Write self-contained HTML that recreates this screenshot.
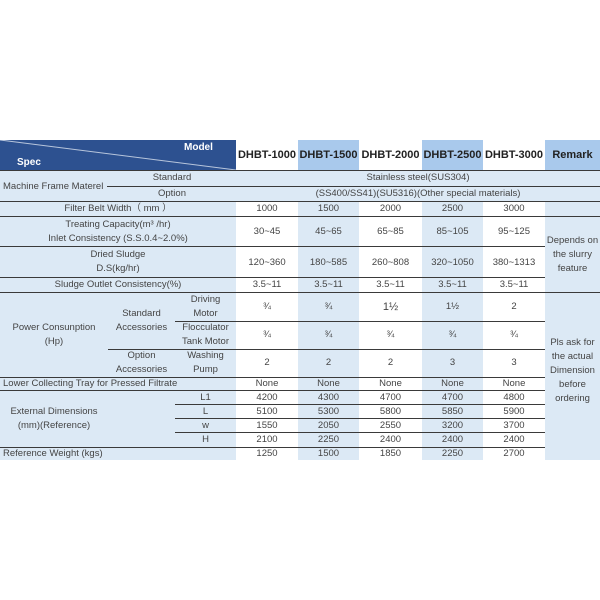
<!DOCTYPE html>
<html><head><meta charset="utf-8"><style>
body{margin:0;width:600px;height:600px;background:#fff;position:relative;overflow:hidden;font-family:"Liberation Sans",sans-serif;color:#444;font-size:9.5px}
div{position:absolute;box-sizing:border-box}
.t{text-align:center;line-height:14px;white-space:nowrap}
.h{height:1px;background:#3a3a3a}
.hd{font-weight:bold;font-size:11px;color:#222;text-align:center;line-height:30px;top:140px;height:30px}
</style></head><body>
<!-- backgrounds -->
<div style="left:0;top:170px;width:236px;height:290px;background:#dce9f5"></div>
<div style="left:298px;top:170px;width:61px;height:290px;background:#dce9f5"></div>
<div style="left:422px;top:170px;width:61px;height:290px;background:#dce9f5"></div>
<div style="left:545px;top:170px;width:55px;height:290px;background:#dce9f5"></div>
<div style="left:107px;top:170px;width:493px;height:31px;background:#dce9f5"></div>
<!-- header -->
<div style="left:0;top:140px;width:236px;height:30px;background:#2d5190"></div>
<svg style="position:absolute;left:0;top:140px" width="236" height="30"><line x1="0" y1="0" x2="236" y2="30" stroke="#b8c6dc" stroke-width="1"/></svg>
<div style="left:184px;top:142px;color:#fff;font-weight:bold;font-size:10px">Model</div>
<div style="left:17px;top:157px;color:#fff;font-weight:bold;font-size:10px">Spec</div>
<div class="hd" style="left:236px;width:62px;background:#fff">DHBT-1000</div>
<div class="hd" style="left:298px;width:61px;background:#a9c9ec">DHBT-1500</div>
<div class="hd" style="left:359px;width:63px;background:#fff">DHBT-2000</div>
<div class="hd" style="left:422px;width:61px;background:#a9c9ec">DHBT-2500</div>
<div class="hd" style="left:483px;width:62px;background:#fff">DHBT-3000</div>
<div class="hd" style="left:545px;width:55px;background:#a9c9ec">Remark</div>
<!-- lines -->
<div class="h" style="left:0;top:170px;width:600px"></div>
<div class="h" style="left:107px;top:186px;width:493px"></div>
<div class="h" style="left:0;top:201px;width:600px"></div>
<div class="h" style="left:0;top:216px;width:600px"></div>
<div class="h" style="left:0;top:246px;width:545px"></div>
<div class="h" style="left:0;top:277px;width:545px"></div>
<div class="h" style="left:0;top:292px;width:600px"></div>
<div class="h" style="left:175px;top:321px;width:370px"></div>
<div class="h" style="left:108px;top:349px;width:437px"></div>
<div class="h" style="left:0;top:377px;width:545px"></div>
<div class="h" style="left:0;top:390px;width:545px"></div>
<div class="h" style="left:175px;top:404px;width:370px"></div>
<div class="h" style="left:175px;top:418px;width:370px"></div>
<div class="h" style="left:175px;top:432px;width:370px"></div>
<div class="h" style="left:0;top:447px;width:545px"></div>
<!-- spec texts -->
<div class="t" style="left:3px;top:180px">Machine Frame Materel</div>
<div class="t" style="left:107px;width:130px;top:171px">Standard</div>
<div class="t" style="left:107px;width:130px;top:187px">Option</div>
<div class="t" style="left:290px;width:256px;top:171px">Stainless steel(SUS304)</div>
<div class="t" style="left:290px;width:256px;top:187px">(SS400/SS41)(SU5316)(Other special materials)</div>
<div class="t" style="left:0;width:236px;top:202px">Filter Belt Width（ mm ）</div>
<div class="t" style="left:0;width:236px;top:218px">Treating Capacity(m³ /hr)<br>Inlet Consistency (S.S.0.4~2.0%)</div>
<div class="t" style="left:0;width:236px;top:248px">Dried Sludge<br>D.S(kg/hr)</div>
<div class="t" style="left:0;width:236px;top:278px">Sludge Outlet Consistency(%)</div>
<div class="t" style="left:0;width:108px;top:321px">Power Consunption<br>(Hp)</div>
<div class="t" style="left:108px;width:67px;top:307px">Standard<br>Accessories</div>
<div class="t" style="left:108px;width:67px;top:349px">Option<br>Accessories</div>
<div class="t" style="left:175px;width:61px;top:293px">Driving<br>Motor</div>
<div class="t" style="left:175px;width:61px;top:321px">Flocculator<br>Tank Motor</div>
<div class="t" style="left:175px;width:61px;top:349px">Washing<br>Pump</div>
<div class="t" style="left:3px;top:377px">Lower Collecting Tray for Pressed Filtrate</div>
<div class="t" style="left:0;width:108px;top:405px">External Dimensions<br>(mm)(Reference)</div>
<div class="t" style="left:175px;width:61px;top:391px">L1</div>
<div class="t" style="left:175px;width:61px;top:405px">L</div>
<div class="t" style="left:175px;width:61px;top:419px">w</div>
<div class="t" style="left:175px;width:61px;top:433px">H</div>
<div class="t" style="left:3px;top:447px">Reference Weight (kgs)</div>
<!-- remark -->
<div class="t" style="left:545px;width:55px;top:234px">Depends on<br>the slurry<br>feature</div>
<div class="t" style="left:545px;width:55px;top:336px">Pls ask for<br>the actual<br>Dimension<br>before<br>ordering</div>
<!-- data columns -->
<div class="t" style="left:236px;width:62px;top:202px">1000</div>
<div class="t" style="left:298px;width:61px;top:202px">1500</div>
<div class="t" style="left:359px;width:63px;top:202px">2000</div>
<div class="t" style="left:422px;width:61px;top:202px">2500</div>
<div class="t" style="left:483px;width:62px;top:202px">3000</div>

<div class="t" style="left:236px;width:62px;top:225px">30~45</div>
<div class="t" style="left:298px;width:61px;top:225px">45~65</div>
<div class="t" style="left:359px;width:63px;top:225px">65~85</div>
<div class="t" style="left:422px;width:61px;top:225px">85~105</div>
<div class="t" style="left:483px;width:62px;top:225px">95~125</div>

<div class="t" style="left:236px;width:62px;top:256px">120~360</div>
<div class="t" style="left:298px;width:61px;top:256px">180~585</div>
<div class="t" style="left:359px;width:63px;top:256px">260~808</div>
<div class="t" style="left:422px;width:61px;top:256px">320~1050</div>
<div class="t" style="left:483px;width:62px;top:256px">380~1313</div>

<div class="t" style="left:236px;width:62px;top:278px">3.5~11</div>
<div class="t" style="left:298px;width:61px;top:278px">3.5~11</div>
<div class="t" style="left:359px;width:63px;top:278px">3.5~11</div>
<div class="t" style="left:422px;width:61px;top:278px">3.5~11</div>
<div class="t" style="left:483px;width:62px;top:278px">3.5~11</div>

<div class="t" style="left:236px;width:62px;top:300px">¾</div>
<div class="t" style="left:298px;width:61px;top:300px">¾</div>
<div class="t" style="left:359px;width:63px;top:300px;font-size:11px">1½</div>
<div class="t" style="left:422px;width:61px;top:300px">1½</div>
<div class="t" style="left:483px;width:62px;top:300px">2</div>

<div class="t" style="left:236px;width:62px;top:328px">¾</div>
<div class="t" style="left:298px;width:61px;top:328px">¾</div>
<div class="t" style="left:359px;width:63px;top:328px">¾</div>
<div class="t" style="left:422px;width:61px;top:328px">¾</div>
<div class="t" style="left:483px;width:62px;top:328px">¾</div>

<div class="t" style="left:236px;width:62px;top:356px">2</div>
<div class="t" style="left:298px;width:61px;top:356px">2</div>
<div class="t" style="left:359px;width:63px;top:356px">2</div>
<div class="t" style="left:422px;width:61px;top:356px">3</div>
<div class="t" style="left:483px;width:62px;top:356px">3</div>

<div class="t" style="left:236px;width:62px;top:377px">None</div>
<div class="t" style="left:298px;width:61px;top:377px">None</div>
<div class="t" style="left:359px;width:63px;top:377px">None</div>
<div class="t" style="left:422px;width:61px;top:377px">None</div>
<div class="t" style="left:483px;width:62px;top:377px">None</div>

<div class="t" style="left:236px;width:62px;top:391px">4200</div>
<div class="t" style="left:298px;width:61px;top:391px">4300</div>
<div class="t" style="left:359px;width:63px;top:391px">4700</div>
<div class="t" style="left:422px;width:61px;top:391px">4700</div>
<div class="t" style="left:483px;width:62px;top:391px">4800</div>

<div class="t" style="left:236px;width:62px;top:405px">5100</div>
<div class="t" style="left:298px;width:61px;top:405px">5300</div>
<div class="t" style="left:359px;width:63px;top:405px">5800</div>
<div class="t" style="left:422px;width:61px;top:405px">5850</div>
<div class="t" style="left:483px;width:62px;top:405px">5900</div>

<div class="t" style="left:236px;width:62px;top:419px">1550</div>
<div class="t" style="left:298px;width:61px;top:419px">2050</div>
<div class="t" style="left:359px;width:63px;top:419px">2550</div>
<div class="t" style="left:422px;width:61px;top:419px">3200</div>
<div class="t" style="left:483px;width:62px;top:419px">3700</div>

<div class="t" style="left:236px;width:62px;top:433px">2100</div>
<div class="t" style="left:298px;width:61px;top:433px">2250</div>
<div class="t" style="left:359px;width:63px;top:433px">2400</div>
<div class="t" style="left:422px;width:61px;top:433px">2400</div>
<div class="t" style="left:483px;width:62px;top:433px">2400</div>

<div class="t" style="left:236px;width:62px;top:447px">1250</div>
<div class="t" style="left:298px;width:61px;top:447px">1500</div>
<div class="t" style="left:359px;width:63px;top:447px">1850</div>
<div class="t" style="left:422px;width:61px;top:447px">2250</div>
<div class="t" style="left:483px;width:62px;top:447px">2700</div>
</body></html>
